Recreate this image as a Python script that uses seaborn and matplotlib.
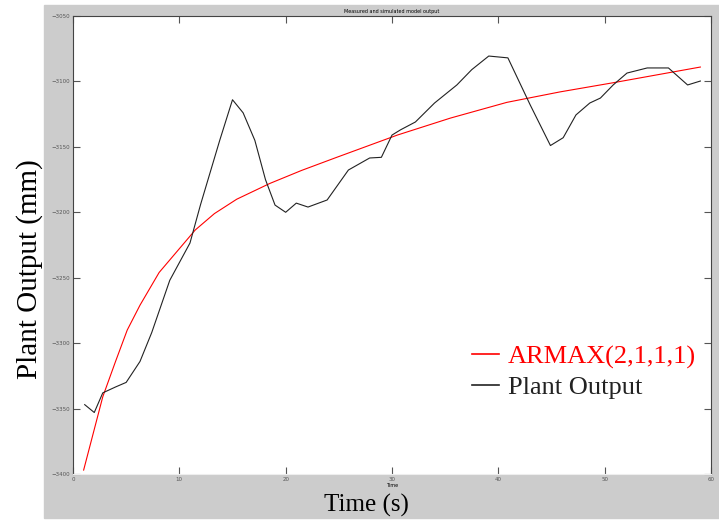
import numpy as np
import pandas as pd
import matplotlib
matplotlib.use("Agg")
import matplotlib.pyplot as plt
from matplotlib.patches import Rectangle
import seaborn as sns

# measured plant output
t_plant = [1.1, 2.0, 2.8, 4.0, 5.0, 6.3, 7.4, 9.1, 11.0, 12.0, 13.8, 15.0, 16.0, 17.1,
           18.1, 19.0, 20.0, 21.0, 22.1, 23.9, 25.9, 27.9, 29.0, 30.0, 30.8, 32.2,
           34.0, 36.1, 37.5, 39.1, 40.9, 43.0, 44.9, 46.1, 47.3, 48.6, 49.6, 50.8,
           52.1, 54.0, 56.0, 57.8, 59.0]
y_plant = [-3347, -3353, -3338, -3333.5, -3330, -3314, -3292, -3252, -3223.5, -3194,
           -3145, -3114, -3124, -3145, -3175, -3194.5, -3200, -3193, -3196, -3190.6,
           -3167.7, -3158.5, -3158, -3141, -3137, -3131, -3116.5, -3102.7, -3091,
           -3080.6, -3082, -3118, -3149, -3143, -3125.6, -3116.5, -3112.7, -3102.7,
           -3093.6, -3089.7, -3089.7, -3102.7, -3099.7]

# simulated ARMAX(2,1,1,1) output
t_armax = [1.0, 1.9, 2.8, 4.0, 5.1, 6.3, 8.1, 11.5, 13.3, 15.4, 18.5, 21.5, 24.8, 30.5,
           35.5, 40.8, 45.8, 50.8, 59.0]
y_armax = [-3397, -3369, -3341, -3314, -3290, -3271, -3246, -3213.5, -3201, -3190,
           -3178, -3168, -3158, -3141, -3128, -3116, -3108, -3101, -3089]

df_plant = pd.DataFrame({"Time": t_plant, "Output": y_plant})
df_armax = pd.DataFrame({"Time": t_armax, "Output": y_armax})

fig = plt.figure(figsize=(7.19, 5.20), dpi=100, facecolor="white")
# grey panel behind the axes
fig.add_artist(Rectangle((44 / 719, 2 / 520), 675 / 719, 513 / 520,
                         transform=fig.transFigure, color="#cccccc", zorder=-10))
ax = fig.add_axes([73 / 719, 46 / 520, 638 / 719, 458 / 520])
ax.set_zorder(1)
ax.set_facecolor("white")

sns.lineplot(data=df_armax, x="Time", y="Output", ax=ax, color="red", lw=0.8,
             label="ARMAX(2,1,1,1)", sort=False)
sns.lineplot(data=df_plant, x="Time", y="Output", ax=ax, color="#222222", lw=0.8,
             label="Plant Output", sort=False)

ax.set_xlim(0, 60)
ax.set_ylim(-3400, -3050)
ax.set_xticks(range(0, 61, 10))
ax.set_yticks(range(-3400, -3049, 50))
ax.tick_params(direction="in", length=5, labelsize=4, labelcolor="#555555",
               top=True, right=True, color="#555555", pad=2)
for s in ["left", "top", "right"]:
    ax.spines[s].set_color("#444444")
ax.spines["bottom"].set_color("#eeeeee")

ax.set_xlabel("Time", fontsize=3.5, labelpad=1)
ax.set_ylabel("")
ax.set_title("Measured and simulated model output", fontsize=3.5, pad=2)

leg = ax.legend(loc="upper left", bbox_to_anchor=(0.625, 0.282), frameon=False,
                borderpad=0, borderaxespad=0, handlelength=1.05, handletextpad=0.33,
                labelspacing=0.25, labelcolor="linecolor",
                prop={"family": "Liberation Serif", "size": 19})
for h in leg.legend_handles:
    h.set_linewidth(1.2)

fig.text(30 / 719, 251 / 520, "Plant Output (mm)", rotation=90, ha="center", va="center",
         family="Liberation Serif", fontsize=21)
fig.text(366 / 719, 15 / 520, "Time (s)", ha="center", va="center",
         family="Liberation Serif", fontsize=18)

fig.savefig("out.png", dpi=100, facecolor="white")
